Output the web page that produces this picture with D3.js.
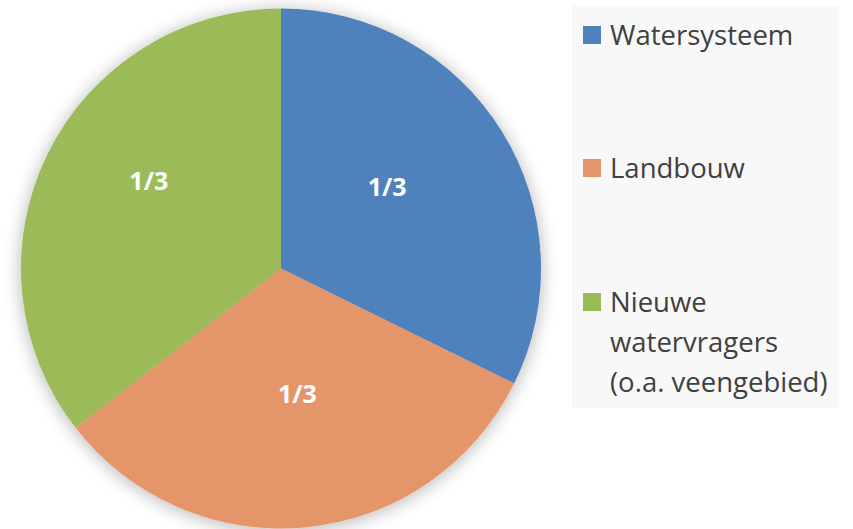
<!DOCTYPE html>
<html>
<head>
<meta charset="utf-8">
<script src="https://cdn.jsdelivr.net/npm/d3@7"></script>
<style>
  body { margin: 0; background: #fff; }
  text { font-family: "Open Sans", "DejaVu Sans", sans-serif; }
</style>
</head>
<body>
<div id="chart"></div>
<script>
// data (shares)
var categories = ["Watersysteem", "Landbouw", "Nieuwe watervragers (o.a. veengebied)"];
var legendLines = [["Watersysteem"], ["Landbouw"], ["Nieuwe", "watervragers", "(o.a. veengebied)"]];
var values = [32.3, 32.2, 35.5];
var sliceLabels = ["1/3", "1/3", "1/3"];
var colors = ["#4f81bd", "#e5956a", "#9bbb59"];

var width = 853, height = 529;
var cx = 281, cy = 268.5, radius = 260;

var svg = d3.select("#chart")
  .append("svg")
    .attr("width", width)
    .attr("height", height);

var defs = svg.append("defs");
var shadow = defs.append("filter")
    .attr("id", "shadow")
    .attr("x", "-20%").attr("y", "-20%")
    .attr("width", "140%").attr("height", "140%");
shadow.append("feGaussianBlur")
    .attr("in", "SourceAlpha")
    .attr("stdDeviation", 9);
shadow.append("feOffset").attr("dx", 0).attr("dy", 2).attr("result", "blur");
shadow.append("feComponentTransfer")
  .append("feFuncA").attr("type", "linear").attr("slope", 0.3);
var merge = shadow.append("feMerge");
merge.append("feMergeNode");
merge.append("feMergeNode").attr("in", "SourceGraphic");

var pie = d3.pie().sort(null).value(function(d) { return d; });
var arc = d3.arc().innerRadius(0).outerRadius(radius);

var g = svg.append("g")
    .attr("transform", "translate(" + cx + "," + cy + ")");

var arcs = pie(values);

g.append("g")
    .attr("filter", "url(#shadow)")
  .selectAll("path")
  .data(arcs)
  .enter()
  .append("path")
    .attr("d", arc)
    .attr("fill", function(d, i) { return colors[i]; });

// label placement inside each slice (radius fraction, angle shift in rad)
var labelPos = [[0.515, -0.1], [0.485, -0.03], [0.61, 0.13]];
g.selectAll("text.lbl")
  .data(arcs)
  .enter()
  .append("text")
    .attr("class", "lbl")
    .attr("transform", function(d, i) {
      var r = radius * labelPos[i][0];
      var a = (d.startAngle + d.endAngle) / 2 + labelPos[i][1];
      return "translate(" + (Math.sin(a) * r) + "," + (-Math.cos(a) * r) + ")";
    })
    .attr("text-anchor", "middle")
    .attr("dy", "0.36em")
    .attr("fill", "#fff")
    .attr("font-weight", "bold")
    .attr("font-size", 25)
    .text(function(d, i) { return sliceLabels[i]; });

// legend
var legend = svg.append("g");
legend.append("rect")
    .attr("x", 572).attr("y", 6)
    .attr("width", 267).attr("height", 402)
    .attr("fill", "#f8f8f8");

var itemY = [35, 168, 302];
var item = legend.selectAll("g.item")
  .data(categories)
  .enter()
  .append("g")
    .attr("class", "item")
    .attr("transform", function(d, i) { return "translate(583," + itemY[i] + ")"; });

item.append("rect")
    .attr("x", 0).attr("y", -9)
    .attr("width", 18).attr("height", 18)
    .attr("fill", function(d, i) { return colors[i]; });

item.each(function(d, i) {
  var t = d3.select(this).append("text")
      .attr("x", 27)
      .attr("y", 0)
      .attr("fill", "#404040")
      .attr("font-size", 27.5);
  legendLines[i].forEach(function(line, j) {
    t.append("tspan")
      .attr("x", 27)
      .attr("dy", j === 0 ? "0.36em" : 40)
      .text(line);
  });
});
</script>
</body>
</html>
